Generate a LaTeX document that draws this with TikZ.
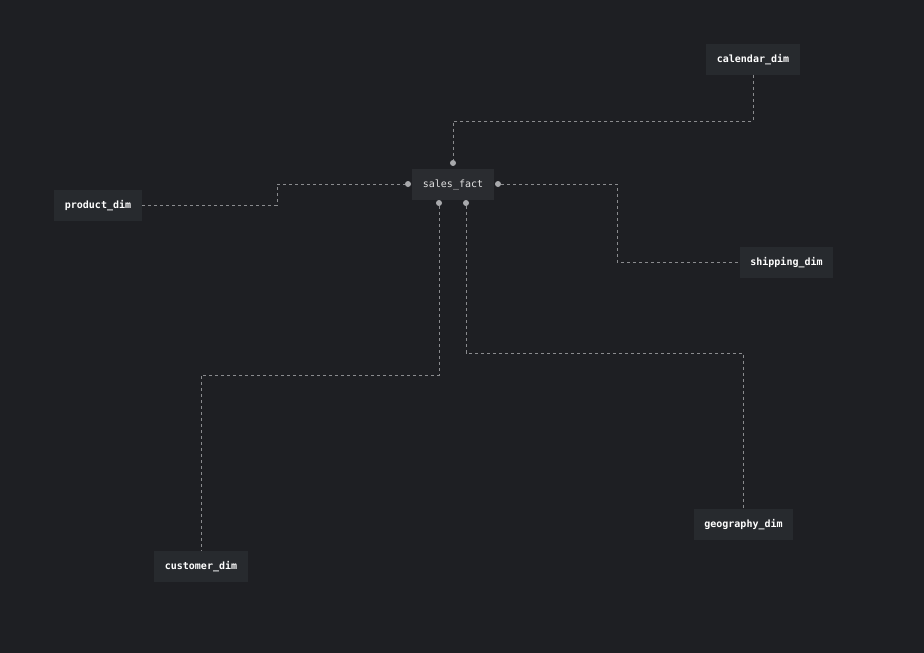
\documentclass[tikz,border=0pt]{standalone}
\usepackage{fontspec}
\setmonofont{DejaVu Sans Mono}
\begin{document}
\begin{tikzpicture}[x=1pt,y=-1pt,
  every node/.style={inner sep=0pt, text height=8pt, text depth=2pt,
    font=\ttfamily\fontsize{10}{12}\selectfont},
  dimbox/.style={fill=boxfill, text=white, minimum height=31pt, font=\ttfamily\bfseries\fontsize{10}{12}\selectfont},
  factbox/.style={fill=factfill, text=facttext, minimum width=82pt, minimum height=31pt},
  link/.style={draw=linegray, line width=0.75pt, dash pattern=on 3pt off 3pt},
  port/.style={circle, fill=portgray, minimum size=6pt, text height=, text depth=}]
\definecolor{bg}{HTML}{1E1F23}
\definecolor{boxfill}{HTML}{272A2E}
\definecolor{factfill}{HTML}{2A2C30}
\definecolor{facttext}{HTML}{E2E2E2}
\definecolor{linegray}{HTML}{8A8B8E}
\definecolor{portgray}{HTML}{A8A9AC}
\fill[bg] (0,0) rectangle (924,653);
\useasboundingbox (0,0) rectangle (924,653);

% tables
\node[factbox] (fact) at (453,184) {sales\_fact};
\node[dimbox, minimum width=94pt] (cal) at (753,59) {calendar\_dim};
\node[dimbox, minimum width=88pt] (prod) at (98,205) {product\_dim};
\node[dimbox, minimum width=93pt] (ship) at (786.5,262) {shipping\_dim};
\node[dimbox, minimum width=99pt] (geo) at (743.5,524) {geography\_dim};
\node[dimbox, minimum width=94pt] (cust) at (201,566) {customer\_dim};

% connection ports on the fact table
\node[port] (pt) at (453,163) {};
\node[port] (pl) at (408,184) {};
\node[port] (pr) at (498,184) {};
\node[port] (pb1) at (439,203) {};
\node[port] (pb2) at (466,203) {};

% relationships
\draw[link] (cal.south) |- (453,121) -- (pt.north);
\draw[link] (prod.east) -- (277,205) |- (pl.west);
\draw[link] (pr.east) -- (617,184) |- (ship.west);
\draw[link] (pb1.south) -- (439,375) -| (cust.north);
\draw[link] (pb2.south) -- (466,353) -| (geo.north);
\end{tikzpicture}
\end{document}
